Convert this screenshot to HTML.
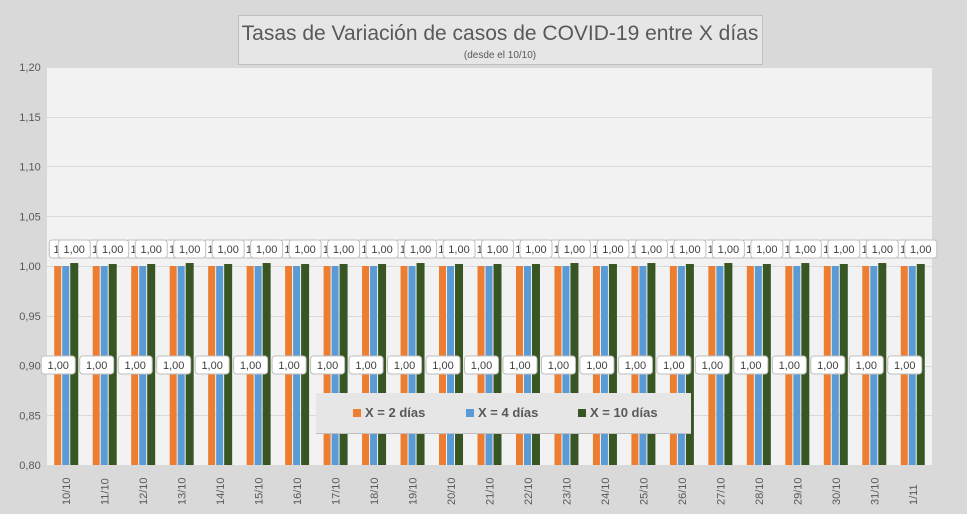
<!DOCTYPE html>
<html><head><meta charset="utf-8"><style>
body{margin:0;width:967px;height:514px;background:#d9d9d9;overflow:hidden;font-family:"Liberation Sans",sans-serif}
svg{display:block}
</style></head><body>
<svg id="c" width="967" height="514">
<rect x="47" y="67" width="885" height="398" fill="#f2f2f2"/>
<g id="grid"></g><g id="bars"></g><g id="labels"></g><g id="axes"></g>
<g>
<rect x="238.5" y="15.5" width="524" height="49" fill="#e6e6e6" stroke="#bfbfbf"/>
<text x="500" y="40" text-anchor="middle" font-size="21" fill="#595959">Tasas de Variación de casos de COVID-19 entre X días</text>
<text x="500" y="58" text-anchor="middle" font-size="10" fill="#595959">(desde el 10/10)</text>
</g>
<g>
<rect x="316" y="393" width="375" height="40" fill="#e6e6e6"/>
<line x1="316" y1="433.5" x2="691" y2="433.5" stroke="#bfbfbf"/>
<g><rect x="353" y="409" width="8" height="8" fill="#ed7d31"/><text x="365" y="417" font-size="13" font-weight="bold" fill="#595959">X = 2 días</text></g>
<g><rect x="466" y="409" width="8" height="8" fill="#5b9bd5"/><text x="478" y="417" font-size="13" font-weight="bold" fill="#595959">X = 4 días</text></g>
<g><rect x="578" y="409" width="8" height="8" fill="#375623"/><text x="590" y="417" font-size="13" font-weight="bold" fill="#595959">X = 10 días</text></g>
</g>
</svg>
<script>
const categories=["10/10","11/10","12/10","13/10","14/10","15/10","16/10","17/10","18/10","19/10","20/10","21/10","22/10","23/10","24/10","25/10","26/10","27/10","28/10","29/10","30/10","31/10","1/11"];
const series2=[1.000,1.000,1.000,1.000,1.000,1.000,1.000,1.000,1.000,1.000,1.000,1.000,1.000,1.000,1.000,1.000,1.000,1.000,1.000,1.000,1.000,1.000,1.000];
const series4=[1.000,1.000,1.000,1.000,1.000,1.000,1.000,1.000,1.000,1.000,1.000,1.000,1.000,1.000,1.000,1.000,1.000,1.000,1.000,1.000,1.000,1.000,1.000];
const series10=[1.003,1.002,1.002,1.003,1.002,1.003,1.002,1.002,1.002,1.003,1.002,1.002,1.002,1.003,1.002,1.003,1.002,1.003,1.002,1.003,1.002,1.003,1.002];
const yTicks=[0.80,0.85,0.90,0.95,1.00,1.05,1.10,1.15,1.20];
const NS="http://www.w3.org/2000/svg";
const X0=47,W=885,Y0=465,Y1=67,vmin=0.8,vmax=1.2;
const y=v=>Y0-(v-vmin)/(vmax-vmin)*(Y0-Y1);
const band=W/categories.length;
const xc=i=>X0+band*(i+0.5);
const fmt=v=>v.toFixed(2).replace('.',',');
function mk(tag,attrs,parent){const e=document.createElementNS(NS,tag);for(const k in attrs)e.setAttribute(k,attrs[k]);parent.appendChild(e);return e;}
const grid=document.getElementById('grid'),bars=document.getElementById('bars'),labels=document.getElementById('labels'),axes=document.getElementById('axes');
yTicks.forEach(t=>{
 const l=mk('line',{x1:X0,x2:X0+W,y1:Math.round(y(t))+0.5,y2:Math.round(y(t))+0.5,stroke:'#d9d9d9'},grid);
 
 
 const tx=mk('text',{x:30,y:y(t)+4,'text-anchor':'middle','font-size':11,fill:'#595959'},axes);
 
 
 tx.textContent=fmt(t);
});
function label(cx,cy,txt,w){
 const g=mk('g',{},labels);
 
 
 mk('rect',{x:cx-w/2,y:cy-9,width:w,height:18,rx:3,fill:'#fff',stroke:'#bfbfbf'},g);
 const t=mk('text',{x:cx,y:cy+4,'text-anchor':'middle','font-size':11,fill:'#404040'},g);
 t.textContent=txt;
}
const specs=[[series2,'#ed7d31',-12,7,'bar-x2'],[series4,'#5b9bd5',-4,7,'bar-x4'],[series10,'#375623',4,8,'bar-x10']];
categories.forEach((c,i)=>{
 const cx=xc(i);
 specs.forEach(([s,col,off,bw,nm])=>{
  const r=mk('rect',{x:cx+off,y:y(s[i]),width:bw,height:Y0-y(s[i]),fill:col},bars);
  
  
 });
 const tx=mk('text',{transform:`translate(${cx+4},505) rotate(-90)`,'font-size':11,fill:'#595959'},axes);
 
 
 tx.textContent=c;
});
categories.forEach((c,i)=>{const cx=xc(i);label(cx-2,249,fmt(series2[i]),30);});
categories.forEach((c,i)=>{const cx=xc(i);label(cx+8,249,fmt(series10[i]),32);});
categories.forEach((c,i)=>{const cx=xc(i);label(cx-8,365,fmt(series4[i]),34);});
</script>
</body></html>
